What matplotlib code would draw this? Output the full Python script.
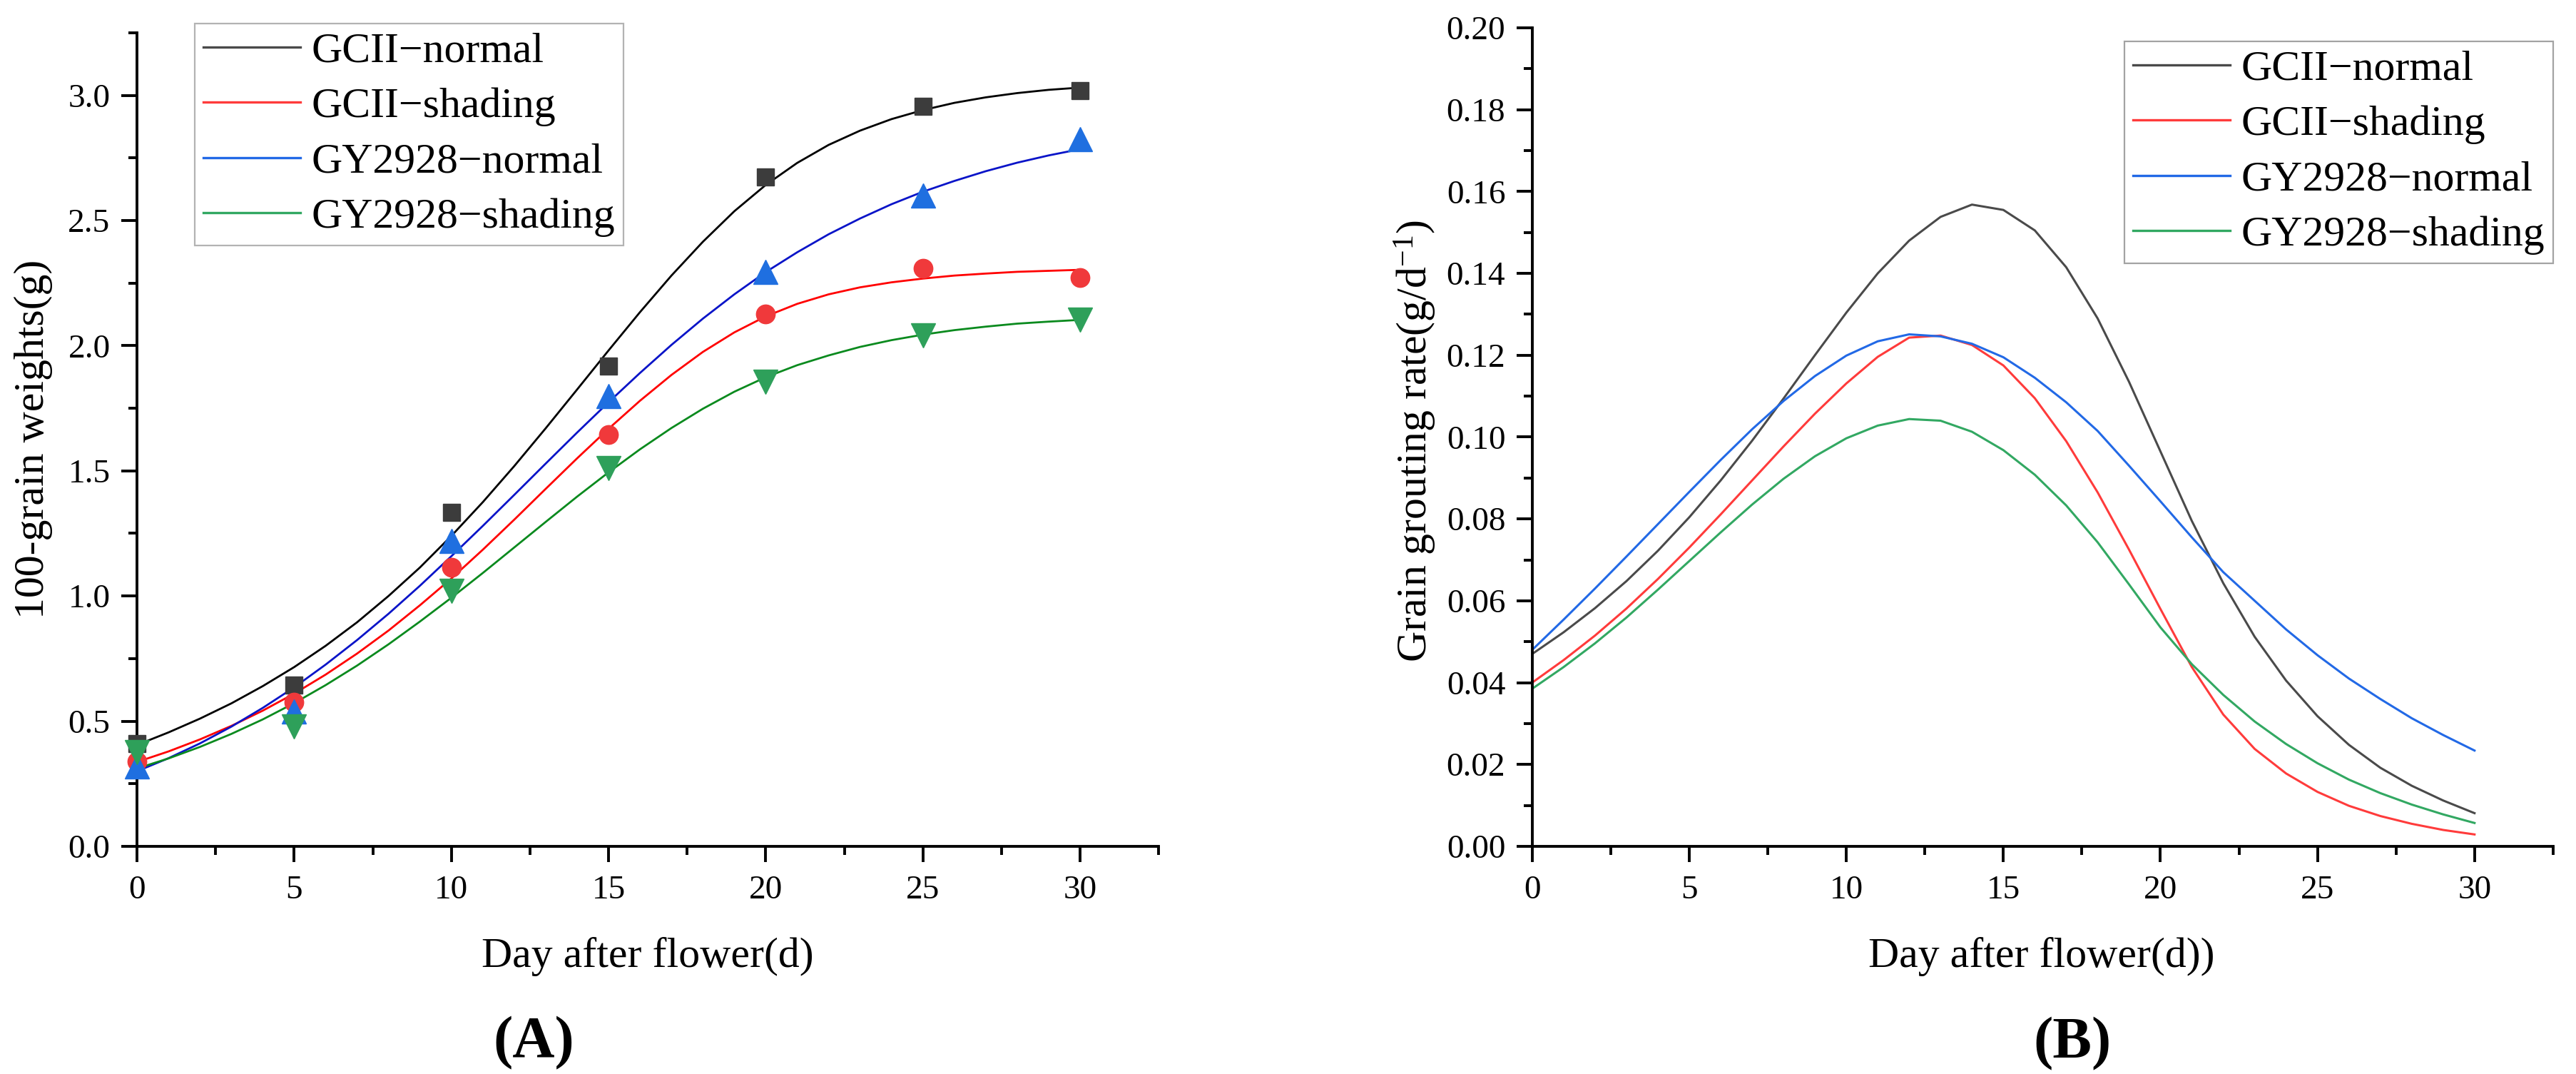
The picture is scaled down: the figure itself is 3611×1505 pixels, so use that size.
import matplotlib
matplotlib.use("Agg")
import matplotlib.pyplot as plt
from matplotlib.ticker import MultipleLocator, FormatStrFormatter
from matplotlib.lines import Line2D

plt.rcParams['font.family'] = ['Liberation Serif', 'DejaVu Serif']
plt.rcParams['mathtext.fontset'] = 'custom'
plt.rcParams['mathtext.rm'] = 'Liberation Serif'
plt.rcParams['mathtext.it'] = 'Liberation Serif:italic'

names = ['GCII\u2212normal', 'GCII\u2212shading', 'GY2928\u2212normal', 'GY2928\u2212shading']

# panel A: measured 100-grain weight (g)
days_pts = [0, 5, 10, 15, 20, 25, 30]
w_gcii_normal = [0.41, 0.645, 1.335, 1.917, 2.675, 2.955, 3.02]
w_gcii_shading = [0.34, 0.575, 1.115, 1.645, 2.126, 2.31, 2.272]
w_gy_normal = [0.32, 0.54, 1.22, 1.80, 2.294, 2.60, 2.824]
w_gy_shading = [0.375, 0.48, 1.02, 1.512, 1.857, 2.041, 2.104]

# panel A: fitted curves, read day by day
fit_days = list(range(31))
fit_gcii_normal = [0.405, 0.455, 0.510, 0.571, 0.640, 0.716, 0.801, 0.895, 1.000, 1.114,
                   1.240, 1.375, 1.519, 1.670, 1.825, 1.981, 2.134, 2.280, 2.415, 2.537,
                   2.642, 2.730, 2.802, 2.859, 2.905, 2.941, 2.970, 2.992, 3.009, 3.022, 3.031]
fit_gcii_shading = [0.337, 0.379, 0.427, 0.481, 0.542, 0.610, 0.686, 0.770, 0.862, 0.963,
                    1.070, 1.185, 1.305, 1.428, 1.550, 1.668, 1.780, 1.883, 1.975, 2.053,
                    2.117, 2.167, 2.205, 2.233, 2.253, 2.268, 2.280, 2.288, 2.295, 2.299, 2.303]
fit_gy_normal = [0.300, 0.352, 0.411, 0.478, 0.553, 0.635, 0.726, 0.824, 0.929, 1.041,
                 1.159, 1.280, 1.404, 1.529, 1.653, 1.774, 1.891, 2.003, 2.108, 2.205,
                 2.294, 2.373, 2.445, 2.508, 2.565, 2.615, 2.658, 2.697, 2.731, 2.760, 2.785]
fit_gy_shading = [0.311, 0.351, 0.397, 0.449, 0.507, 0.572, 0.644, 0.722, 0.807, 0.898,
                  0.993, 1.092, 1.194, 1.296, 1.397, 1.494, 1.586, 1.671, 1.748, 1.816,
                  1.874, 1.922, 1.961, 1.995, 2.022, 2.044, 2.062, 2.076, 2.088, 2.096, 2.103]

# panel B: grain filling rate (g/d), one value per day
rate_days = list(range(31))
rate_gcii_normal = [0.047, 0.0523, 0.0582, 0.0648, 0.0722, 0.0804, 0.0894, 0.0991, 0.1094, 0.1200,
                    0.1304, 0.1400, 0.1480, 0.1538, 0.1568, 0.1555, 0.1505, 0.1415, 0.1290, 0.1135,
                    0.0965, 0.0795, 0.0643, 0.0512, 0.0405, 0.0318, 0.0248, 0.0192, 0.0148, 0.0112, 0.0081]
rate_gcii_shading = [0.040, 0.0455, 0.0515, 0.0581, 0.0653, 0.0730, 0.0811, 0.0894, 0.0977, 0.1057,
                     0.1131, 0.1196, 0.1243, 0.1248, 0.1225, 0.1175, 0.1095, 0.0990, 0.0865, 0.0725,
                     0.0580, 0.0438, 0.0322, 0.0238, 0.0178, 0.0133, 0.0099, 0.0074, 0.0055, 0.0040, 0.0029]
rate_gy_normal = [0.048, 0.0554, 0.0630, 0.0708, 0.0787, 0.0866, 0.0944, 0.1019, 0.1088, 0.1149,
                  0.1199, 0.1234, 0.1251, 0.1246, 0.1228, 0.1195, 0.1145, 0.1085, 0.1015, 0.0930,
                  0.0843, 0.0755, 0.0670, 0.0600, 0.0530, 0.0467, 0.0410, 0.0360, 0.0313, 0.0272, 0.0234]
rate_gy_shading = [0.0385, 0.0438, 0.0496, 0.0559, 0.0627, 0.0697, 0.0767, 0.0835, 0.0898, 0.0953,
                   0.0997, 0.1028, 0.1044, 0.1040, 0.1013, 0.0968, 0.0908, 0.0833, 0.0743, 0.0640,
                   0.0535, 0.0445, 0.0370, 0.0305, 0.0250, 0.0203, 0.0163, 0.0130, 0.0102, 0.0078, 0.0057]

fit_colors = ['#000000', '#ff0000', '#0a14c8', '#0a8a1e']
pt_colors = ['#3c3c3c', '#f0393b', '#1f6fe0', '#2ea05a']
pt_markers = ['s', 'o', '^', 'v']
pt_sizes = [17, 19, 24, 24]
rate_colors = ['#4a4a4a', '#ff3b3b', '#2269e6', '#32a862']

TICK = 34
LAB = 43

fig = plt.figure(figsize=(36.11, 15.05), dpi=100)
axA = fig.add_axes([0.0532, 0.212, 0.3966, 0.7575])
axB = fig.add_axes([0.5948, 0.212, 0.3963, 0.7621])

def style(ax):
    for s in ['top', 'right']:
        ax.spines[s].set_visible(False)
    for s in ['left', 'bottom']:
        ax.spines[s].set_linewidth(2.8)
    ax.tick_params(which='major', direction='out', length=16, width=2.8, labelsize=TICK)
    ax.tick_params(which='minor', direction='out', length=8.5, width=2.8)
    ax.tick_params(axis='x', which='major', pad=13)
    ax.tick_params(axis='y', which='major', pad=11)
    ax.xaxis.set_major_locator(MultipleLocator(5))
    ax.xaxis.set_minor_locator(MultipleLocator(2.5))
    ax.set_xlim(0, 32.5)

def legend(anchor, loc, edge):
    handles = [Line2D([], [], color=rate_colors[i], lw=2.4) for i in range(4)]
    leg = fig.legend(handles, names, loc=loc, bbox_to_anchor=anchor,
                     fontsize=LAB, frameon=True, fancybox=False, borderpad=0.2, labelspacing=0.38,
                     handlelength=2.28, handletextpad=0.25, borderaxespad=0)
    leg.get_frame().set_edgecolor(edge)
    leg.get_frame().set_linewidth(1.6)
    return leg

# ---- panel A
style(axA)
pts = [w_gcii_normal, w_gcii_shading, w_gy_normal, w_gy_shading]
fits = [fit_gcii_normal, fit_gcii_shading, fit_gy_normal, fit_gy_shading]
for i in range(4):
    axA.plot(fit_days, fits[i], color=fit_colors[i], lw=2.0, zorder=2)
    axA.plot(days_pts, pts[i], ls='none', marker=pt_markers[i], ms=pt_sizes[i],
             color=pt_colors[i], mec=pt_colors[i], zorder=3, clip_on=False)
axA.set_ylim(0, 3.25)
axA.yaxis.set_major_locator(MultipleLocator(0.5))
axA.yaxis.set_minor_locator(MultipleLocator(0.25))
axA.yaxis.set_major_formatter(FormatStrFormatter('%.1f'))
legend((273 / 3611, 1 - 33 / 1505), 'upper left', '#a0a0a0')

# ---- panel B
style(axB)
rates = [rate_gcii_normal, rate_gcii_shading, rate_gy_normal, rate_gy_shading]
for i in range(4):
    axB.plot(rate_days, rates[i], color=rate_colors[i], lw=2.2)
axB.set_ylim(0, 0.20)
axB.yaxis.set_major_locator(MultipleLocator(0.02))
axB.yaxis.set_minor_locator(MultipleLocator(0.01))
axB.yaxis.set_major_formatter(FormatStrFormatter('%.2f'))
legend((3579 / 3611, 1 - 58 / 1505), 'upper right', '#8c8c8c')

# ---- labels
fig.text(908 / 3611, 1 - 1340 / 1505, 'Day after flower(d)', fontsize=LAB, ha='center', va='center')
fig.text(2862 / 3611, 1 - 1340 / 1505, 'Day after flower(d))', fontsize=LAB, ha='center', va='center')
fig.text(47 / 3611, 1 - 615 / 1505, '100-grain weights(g)', fontsize=LAB, rotation=90,
         ha='center', va='center')
fig.text(1984 / 3611, 1 - 618 / 1505, r'Grain grouting rate(g/d$^{\mathrm{-1}}$)', fontsize=LAB,
         rotation=90, ha='center', va='center')
fig.text(748 / 3611, 1 - 1462 / 1505, '(A)', fontsize=59, fontweight='bold', ha='center', va='center')
fig.text(2905 / 3611, 1 - 1463 / 1505, '(B)', fontsize=59, fontweight='bold', ha='center', va='center')

fig.savefig('out.png', dpi=100, facecolor='white')
